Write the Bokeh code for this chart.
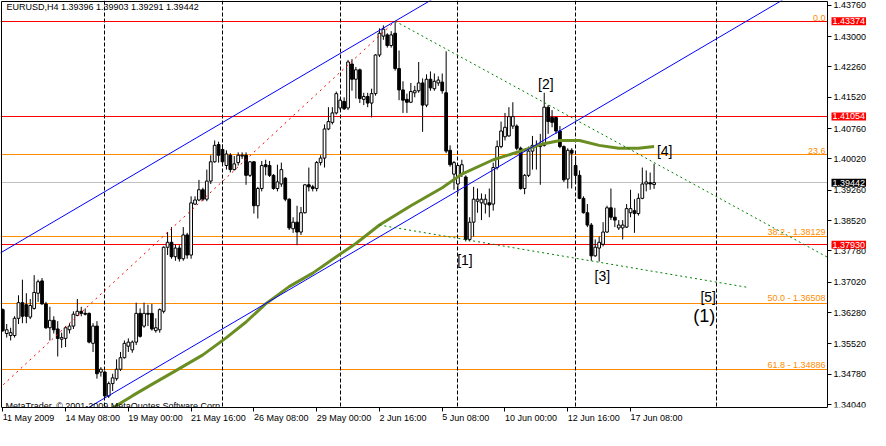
from bokeh.plotting import figure
from bokeh.models import Range1d, FixedTicker, PrintfTickFormatter, Label, ColumnDataSource
from bokeh.embed import file_html
from bokeh.resources import INLINE
from bokeh.core.properties import value

FONT = "Liberation Sans"

symbol = "EURUSD"
timeframe = "H4"

# ---- H4 candles, bar 0 = 11 May 2009 16:00 ----
opens = [1.3635, 1.3577, 1.3572, 1.3572, 1.3614, 1.3652, 1.3647, 1.3617, 1.3638, 1.3675,
         1.3705, 1.3649, 1.3591, 1.3609, 1.3588, 1.3563, 1.3565, 1.3586, 1.3595, 1.3621,
         1.3631, 1.3626, 1.3626, 1.3553, 1.3595, 1.3483, 1.3483, 1.3425, 1.3455, 1.3467,
         1.3490, 1.3518, 1.3546, 1.3537, 1.3556, 1.3626, 1.3595, 1.3626, 1.3626, 1.3584,
         1.3586, 1.3631, 1.3787, 1.3799, 1.3764, 1.3785, 1.3759, 1.3817, 1.3768, 1.3892,
         1.3902, 1.3927, 1.3904, 1.3948, 1.3995, 1.4037, 1.4025, 1.3986, 1.4011, 1.3976,
         1.3993, 1.4009, 1.4011, 1.3962, 1.3995, 1.3888, 1.3930, 1.3988, 1.3986, 1.3962,
         1.3930, 1.3941, 1.3955, 1.3904, 1.3832, 1.3848, 1.3824, 1.3871, 1.3939, 1.3934,
         1.3930, 1.3993, 1.4004, 1.4075, 1.4091, 1.4114, 1.4126, 1.4142, 1.4126, 1.4233,
         1.4196, 1.4219, 1.4147, 1.4154, 1.4138, 1.4161, 1.4255, 1.4301, 1.4304, 1.4278,
         1.4308, 1.4222, 1.4170, 1.4147, 1.4140, 1.4163, 1.4168, 1.4187, 1.4133, 1.4196,
         1.4173, 1.4187, 1.4189, 1.4163, 1.4023, 1.3965, 1.3941, 1.3965, 1.3958, 1.3806,
         1.3848, 1.3899, 1.3895, 1.3892, 1.3895, 1.3892, 1.3981, 1.4032, 1.4056, 1.4058,
         1.4082, 1.4082, 1.4028, 1.3930, 1.3962, 1.4021, 1.4032, 1.4032, 1.4035, 1.4128,
         1.4103, 1.4103, 1.4070, 1.4032, 1.3953, 1.4023, 1.3986, 1.3962, 1.3906, 1.3871,
         1.3841, 1.3766, 1.3785, 1.3794, 1.3824, 1.3883, 1.3860, 1.3834, 1.3834, 1.3836,
         1.3871, 1.3876, 1.3869, 1.3906, 1.3941, 1.3944, 1.39396]
highs = [1.3638, 1.3600, 1.3591, 1.3619, 1.3670, 1.3708, 1.3675, 1.3661, 1.3719, 1.3708,
         1.3712, 1.3654, 1.3642, 1.3619, 1.3607, 1.3579, 1.3595, 1.3602, 1.3631, 1.3661,
         1.3642, 1.3638, 1.3628, 1.3602, 1.3607, 1.3495, 1.3486, 1.3460, 1.3479, 1.3514,
         1.3532, 1.3560, 1.3565, 1.3560, 1.3652, 1.3638, 1.3652, 1.3647, 1.3649, 1.3614,
         1.3638, 1.3789, 1.3824, 1.3836, 1.3794, 1.3792, 1.3836, 1.3822, 1.3911, 1.3911,
         1.3951, 1.3932, 1.3976, 1.4011, 1.4047, 1.4044, 1.4037, 1.4023, 1.4016, 1.4009,
         1.4018, 1.4018, 1.4018, 1.3997, 1.3997, 1.3934, 1.3997, 1.4000, 1.3997, 1.3965,
         1.3988, 1.3993, 1.3958, 1.3906, 1.3860, 1.3888, 1.3885, 1.3941, 1.3981, 1.3939,
         1.3997, 1.4011, 1.4086, 1.4128, 1.4128, 1.4166, 1.4149, 1.4152, 1.4243, 1.4245,
         1.4226, 1.4222, 1.4163, 1.4163, 1.4173, 1.4257, 1.4320, 1.4327, 1.4308, 1.4313,
         1.43374, 1.4266, 1.4191, 1.4161, 1.4187, 1.4180, 1.4238, 1.4198, 1.4208, 1.4215,
         1.4210, 1.4203, 1.4210, 1.4264, 1.4035, 1.3997, 1.3988, 1.4000, 1.3962, 1.3860,
         1.3934, 1.3930, 1.3918, 1.3916, 1.3930, 1.3993, 1.4047, 1.4093, 1.4114, 1.4128,
         1.4140, 1.4086, 1.4032, 1.3965, 1.4032, 1.4058, 1.4047, 1.4063, 1.4163, 1.4133,
         1.4121, 1.4105, 1.4082, 1.4035, 1.4028, 1.4028, 1.4009, 1.3974, 1.3911, 1.3892,
         1.3846, 1.3806, 1.3813, 1.3848, 1.3888, 1.3930, 1.3883, 1.3853, 1.3853, 1.3892,
         1.3927, 1.3904, 1.3918, 1.3981, 1.3974, 1.3969, 1.39903]
lows = [1.3581, 1.3567, 1.3560, 1.3567, 1.3600, 1.3602, 1.3602, 1.3612, 1.3635, 1.3654,
        1.3647, 1.3588, 1.3560, 1.3577, 1.3521, 1.3542, 1.3544, 1.3577, 1.3588, 1.3619,
        1.3619, 1.3621, 1.3553, 1.3532, 1.3467, 1.3472, 1.3420, 1.3420, 1.3437, 1.3462,
        1.3486, 1.3516, 1.3532, 1.3530, 1.3549, 1.3567, 1.3591, 1.3595, 1.3584, 1.3579,
        1.3579, 1.3626, 1.3768, 1.3759, 1.3754, 1.3752, 1.3754, 1.3759, 1.3759, 1.3890,
        1.3899, 1.3899, 1.3899, 1.3941, 1.3993, 1.3993, 1.3986, 1.3976, 1.3969, 1.3974,
        1.3986, 1.4002, 1.3939, 1.3958, 1.3869, 1.3857, 1.3923, 1.3962, 1.3958, 1.3927,
        1.3923, 1.3934, 1.3899, 1.3829, 1.3822, 1.3792, 1.3817, 1.3869, 1.3923, 1.3923,
        1.3923, 1.3986, 1.3981, 1.4072, 1.4086, 1.4110, 1.4121, 1.4121, 1.4121, 1.4168,
        1.4149, 1.4138, 1.4133, 1.4128, 1.4103, 1.4156, 1.4250, 1.4292, 1.4273, 1.4273,
        1.4217, 1.4145, 1.4114, 1.4114, 1.4138, 1.4152, 1.4163, 1.4068, 1.4128, 1.4168,
        1.4168, 1.4180, 1.4161, 1.4016, 1.3983, 1.3927, 1.3918, 1.3958, 1.3801, 1.3801,
        1.3813, 1.3871, 1.3853, 1.3869, 1.3860, 1.3876, 1.3976, 1.4028, 1.4047, 1.4056,
        1.4075, 1.4023, 1.3927, 1.3916, 1.3958, 1.3976, 1.3976, 1.3939, 1.4032, 1.4063,
        1.4079, 1.4063, 1.4028, 1.3946, 1.3930, 1.3930, 1.3946, 1.3904, 1.3869, 1.3836,
        1.3754, 1.3764, 1.3752, 1.3789, 1.3822, 1.3853, 1.3836, 1.3829, 1.3806, 1.3834,
        1.3860, 1.3822, 1.3864, 1.3904, 1.3923, 1.3927, 1.39291]
closes = [1.3584, 1.3586, 1.3579, 1.3614, 1.3652, 1.3619, 1.3619, 1.3645, 1.3677, 1.3703,
          1.3649, 1.3591, 1.3609, 1.3586, 1.3565, 1.3567, 1.3591, 1.3595, 1.3624, 1.3631,
          1.3626, 1.3624, 1.3556, 1.3595, 1.3479, 1.3490, 1.3425, 1.3455, 1.3469, 1.3490,
          1.3518, 1.3553, 1.3556, 1.3556, 1.3626, 1.3570, 1.3626, 1.3624, 1.3588, 1.3591,
          1.3635, 1.3787, 1.3799, 1.3764, 1.3785, 1.3759, 1.3817, 1.3768, 1.3895, 1.3902,
          1.3927, 1.3904, 1.3948, 1.3995, 1.4035, 1.4011, 1.3995, 1.4014, 1.3976, 1.3990,
          1.4011, 1.4011, 1.3962, 1.3995, 1.3888, 1.3930, 1.3986, 1.3983, 1.3962, 1.3930,
          1.3946, 1.3976, 1.3904, 1.3834, 1.3848, 1.3824, 1.3871, 1.3939, 1.3934, 1.3930,
          1.3993, 1.4004, 1.4075, 1.4093, 1.4114, 1.4161, 1.4145, 1.4124, 1.4238, 1.4196,
          1.4219, 1.4149, 1.4154, 1.4138, 1.4161, 1.4255, 1.4308, 1.4318, 1.4278, 1.4304,
          1.4222, 1.4170, 1.4145, 1.4140, 1.4166, 1.4168, 1.4187, 1.4133, 1.4196, 1.4175,
          1.4191, 1.4194, 1.4168, 1.4021, 1.3988, 1.3993, 1.3986, 1.3988, 1.3806, 1.3848,
          1.3904, 1.3904, 1.3904, 1.3904, 1.3890, 1.3981, 1.4032, 1.4070, 1.4079, 1.4105,
          1.4105, 1.4028, 1.3930, 1.3962, 1.4021, 1.4035, 1.4035, 1.4039, 1.4128, 1.4093,
          1.4091, 1.4070, 1.4032, 1.3951, 1.4023, 1.4016, 1.3962, 1.3906, 1.3871, 1.3841,
          1.3766, 1.3787, 1.3799, 1.3824, 1.3883, 1.3860, 1.3853, 1.3841, 1.3841, 1.3881,
          1.3881, 1.3869, 1.3906, 1.3941, 1.3946, 1.3941, 1.39442]
bars = list(range(len(opens)))

# moving average (olive) sampled at bars
ma_bars = [27, 33, 38, 44, 51, 57, 62, 67, 73, 79, 85, 90, 96, 104, 112, 117, 125,
           132, 137, 142, 147, 152, 157, 162, 166]
ma_values = [1.3390, 1.3425, 1.3453, 1.3486, 1.3525, 1.3567, 1.3605, 1.3649, 1.3691,
             1.3724, 1.3764, 1.3796, 1.3841, 1.3888, 1.3932, 1.3965, 1.4000, 1.4021,
             1.4037, 1.4047, 1.4047, 1.4035, 1.4028, 1.4028, 1.4032]

# time axis
date_tick_bars = [0, 16, 32, 48, 64, 80, 96, 112, 128, 144, 160]
date_tick_labels = ["11 May 2009", "14 May 08:00", "19 May 00:00", "21 May 16:00",
                    "26 May 08:00", "29 May 00:00", "2 Jun 16:00", "5 Jun 08:00",
                    "10 Jun 00:00", "12 Jun 16:00", "17 Jun 08:00"]
week_separator_bars = [26, 56, 86, 116, 146, 182]

# price axis
price_ticks = [1.34040, 1.34780, 1.35520, 1.36280, 1.37020, 1.37780, 1.38520,
               1.39260, 1.40020, 1.40760, 1.41520, 1.42260, 1.43000, 1.43760]

# horizontal levels
red_levels = [1.43374, 1.41054, 1.37930]
bid_level = 1.39442
fib_pct = ["0.0", "23.6", "38.2", "50.0", "61.8"]
fib_prices = [1.43374, 1.40133, 1.38129, 1.36508, 1.34886]
fib_show_price = [False, False, True, True, True]

# drawn trend lines (bar, price) anchors
chan_upper_bars, chan_upper_prices = [-1, 120], [1.37709, 1.44496]
chan_lower_bars, chan_lower_prices = [20, 200], [1.33863, 1.43960]
fib_diag_bars, fib_diag_prices = [-1, 100], [1.34423, 1.43374]
green_upper_bars, green_upper_prices = [100, 212], [1.43374, 1.37532]
green_lower_bars, green_lower_prices = [96, 190], [1.38410, 1.36890]

# wave labels
wave_text = ["[1]", "[2]", "[3]", "[4]", "[5]"]
wave_bars = [117.8, 138.4, 152.8, 168.7, 179.8]
wave_prices = [1.37567, 1.41843, 1.37181, 1.40219, 1.36655]
degree_text, degree_bar, degree_price = "(1)", 178.8, 1.36188

# ---- layout: chart area and price-scale strip share one frame ----
W, H, BOTTOM = 870, 430, 19
XL, XR = -0.33, 210.2          # visible bars of the chart area
YB, YT = 1.33968, 1.43853      # visible prices of the chart area
PX_PER_BAR = 826 / (XR - XL)
PX_PER_PRICE = (H - BOTTOM - 1) / (YT - YB)
FX0 = XL - 1 / PX_PER_BAR
FX1 = FX0 + W / PX_PER_BAR
FY1 = YT + 1 / PX_PER_PRICE

p = figure(width=W, height=H, x_range=Range1d(FX0, FX1), y_range=Range1d(YB, FY1),
           output_backend="svg", toolbar_location=None,
           x_axis_location="below", y_axis_location="right",
           min_border_left=0, min_border_top=0, min_border_right=0, min_border_bottom=BOTTOM,
           background_fill_color="white", border_fill_color="white",
           outline_line_color=None)
p.grid.visible = False

yax = p.yaxis[0]
yax.fixed_location = XR
yax.bounds = (YB, YT)
yax.ticker = FixedTicker(ticks=price_ticks)
yax.formatter = PrintfTickFormatter(format="%.5f")
yax.axis_line_color = "black"
yax.major_tick_out = 4
yax.major_tick_in = 0
yax.minor_tick_line_color = None
yax.major_label_standoff = 2
yax.major_label_text_font = FONT
yax.major_label_text_font_size = "9px"
yax.major_label_text_color = "black"

xax = p.xaxis[0]
xax.bounds = (XL, XR)
xax.ticker = FixedTicker(ticks=date_tick_bars)
xax.major_label_overrides = dict(zip(date_tick_bars, date_tick_labels))
xax.major_label_orientation = -0.0001
xax.axis_line_color = "black"
xax.major_tick_out = 4
xax.major_tick_in = 0
xax.minor_tick_line_color = None
xax.major_label_standoff = 6
xax.major_label_text_font = FONT
xax.major_label_text_font_size = "9px"
xax.major_label_text_color = "black"

# fib levels and horizontal lines
p.hspan(y=fib_prices, line_color="#FF8C00", line_width=1)
p.hspan(y=[bid_level], line_color="#C0C0C0", line_width=1)
p.hspan(y=red_levels, line_color="#FF0000", line_width=1)
p.vspan(x=week_separator_bars, line_color="black", line_width=1, line_dash="4 2")

fib_text = [f"{t} - {v:.5f}" if s else t for t, v, s in zip(fib_pct, fib_prices, fib_show_price)]
p.text(x=[XR] * len(fib_prices), y=fib_prices, text=fib_text, x_offset=-2, y_offset=0,
       text_align="right", text_baseline="bottom", text_color="#FF8C00",
       text_font=value(FONT), text_font_size="9px")

# candles
src = ColumnDataSource(dict(
    x=bars, h=highs, l=lows,
    top=[max(o, c) for o, c in zip(opens, closes)],
    bottom=[min(o, c) for o, c in zip(opens, closes)],
    fill=["white" if c >= o else "black" for o, c in zip(opens, closes)]))
p.segment(x0="x", y0="l", x1="x", y1="h", source=src, line_color="black", line_width=1)
p.vbar(x="x", width=0.7, top="top", bottom="bottom", source=src,
       fill_color="fill", line_color="black", line_width=1)

# moving average
p.line(ma_bars, ma_values, line_color="#6B8E23", line_width=3)

# trend lines
p.line(chan_upper_bars, chan_upper_prices, line_color="#0000FF", line_width=1)
p.line(chan_lower_bars, chan_lower_prices, line_color="#0000FF", line_width=1)
p.line(fib_diag_bars, fib_diag_prices, line_color="#FF0000", line_width=1, line_dash="2 4")
p.line(green_upper_bars, green_upper_prices, line_color="#008000", line_width=1, line_dash="2 3")
p.line(green_lower_bars, green_lower_prices, line_color="#008000", line_width=1, line_dash="2 3")

# wave labels
p.text(x=wave_bars, y=wave_prices, text=wave_text, text_align="center", text_baseline="middle",
       text_color="black", text_font=value(FONT), text_font_size="14px")
p.text(x=[degree_bar], y=[degree_price], text=[degree_text], text_align="center",
       text_baseline="middle", text_color="black", text_font=value(FONT), text_font_size="18px")

# mask everything outside the chart area (price-scale strip and 1px margins)
p.quad(left=[XR, FX0, FX0], right=[FX1, FX1, XL], bottom=[YB, YT, YB], top=[FY1, FY1, FY1],
       fill_color="white", line_color=None)
# chart border (left and top; right = price axis line, bottom = time axis line)
p.segment(x0=[XL, XL], y0=[YB, YT], x1=[XL, XR], y1=[YT, YT], line_color="black", line_width=1)

# title and copyright
title = f"{symbol},{timeframe}  {opens[-1]:.5f} {highs[-1]:.5f} {lows[-1]:.5f} {closes[-1]:.5f}"
p.add_layout(Label(x=6, y=H - BOTTOM - 10, x_units="screen", y_units="screen", text=title,
                   text_baseline="middle", text_align="left", text_font=FONT,
                   text_font_size="9px", text_color="black"))
p.add_layout(Label(x=5, y=2, x_units="screen", y_units="screen",
                   text="MetaTrader, \u00a9 2001-2009 MetaQuotes Software Corp.",
                   text_baseline="alphabetic", text_align="left", text_font=FONT,
                   text_font_size="9px", text_color="black"))

# price boxes on the price scale
for lv in red_levels:
    p.add_layout(Label(x=XR, y=lv, x_offset=4, text=f"{lv:.5f}", text_baseline="middle",
                       text_align="left", text_font=FONT, text_font_size="9px",
                       text_color="white", background_fill_color="#FF0000", padding=1))
p.add_layout(Label(x=XR, y=bid_level, x_offset=4, text=f"{bid_level:.5f}",
                   text_baseline="middle", text_align="left", text_font=FONT,
                   text_font_size="9px", text_color="white",
                   background_fill_color="black", padding=1))

open("out.html", "w").write(file_html(p, INLINE))
